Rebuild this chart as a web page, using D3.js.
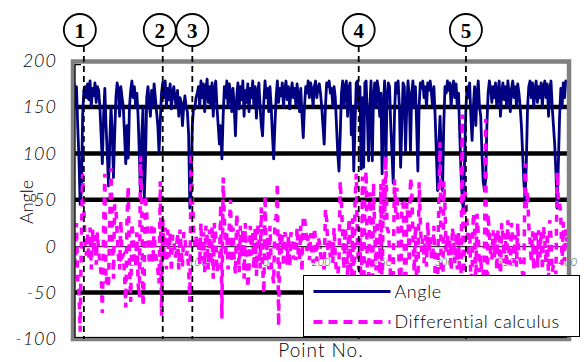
<!DOCTYPE html>
<html>
<head>
<meta charset="utf-8">
<script src="https://cdn.jsdelivr.net/npm/d3@7"></script>
<style>
  body { margin: 0; background: #fff; }
  text { font-family: Lato, "DejaVu Sans", sans-serif; font-weight: 300; }
</style>
</head>
<body>
<svg id="chart" width="584" height="362"></svg>
<script>
// Angle per point (0..400)
const angle = [
  176, 150, 172, 130, 95, 45, 60, 140, 168, 172, 160, 175, 158, 178, 150, 170, 162, 176, 155, 172,
  168, 150, 120, 89, 140, 170, 130, 100, 65, 110, 150, 125, 74, 120, 160, 176, 168, 140, 172, 160,
  150, 120, 89, 130, 95, 150, 168, 178, 160, 172, 150, 165, 140, 100, 51, 120, 150, 52, 90, 160,
  172, 155, 140, 168, 150, 175, 160, 145, 130, 101, 135, 165, 176, 160, 178, 150, 170, 158, 175, 148,
  165, 172, 158, 150, 168, 140, 160, 155, 130, 150, 162, 150, 145, 120, 41, 60, 130, 150, 148, 160,
  165, 172, 150, 178, 160, 175, 145, 170, 180, 155, 172, 150, 176, 140, 168, 178, 150, 130, 110, 130,
  94, 140, 172, 160, 178, 150, 175, 165, 145, 170, 150, 119, 160, 176, 148, 172, 158, 178, 140, 168,
  155, 175, 145, 170, 160, 178, 150, 172, 138, 165, 176, 150, 130, 119, 155, 178, 160, 170, 145, 172,
  150, 120, 94, 130, 160, 178, 155, 170, 162, 176, 150, 168, 178, 158, 172, 148, 166, 176, 160, 170,
  152, 175, 160, 145, 170, 140, 117, 150, 172, 165, 178, 160, 176, 168, 150, 172, 178, 160, 170, 175,
  165, 150, 130, 110, 150, 176, 172, 178, 165, 170, 150, 172, 160, 130, 100, 81, 120, 165, 178, 150,
  172, 178, 140, 170, 176, 120, 150, 81, 130, 176, 178, 150, 172, 83, 160, 85, 176, 178, 140, 92,
  150, 178, 92, 160, 176, 150, 178, 170, 140, 165, 78, 150, 178, 87, 160, 176, 172, 130, 100, 68,
  140, 176, 165, 178, 150, 85, 130, 176, 172, 103, 150, 178, 160, 103, 165, 178, 150, 172, 130, 81,
  150, 176, 170, 178, 160, 172, 150, 176, 168, 178, 165, 150, 172, 140, 100, 60, 110, 140, 100, 60,
  130, 172, 165, 178, 168, 176, 150, 170, 178, 160, 175, 150, 165, 120, 80, 50, 38, 100, 150, 172,
  160, 176, 140, 114, 150, 172, 130, 165, 178, 150, 140, 100, 70, 60, 72, 130, 165, 178, 170, 155,
  172, 160, 176, 150, 168, 178, 140, 165, 176, 158, 172, 150, 178, 165, 145, 170, 178, 160, 172, 150,
  175, 165, 150, 130, 100, 70, 49, 90, 150, 172, 178, 160, 176, 150, 168, 178, 155, 172, 160, 176,
  150, 172, 178, 160, 175, 140, 168, 178, 150, 130, 110, 80, 41, 90, 140, 170, 150, 176, 160, 178,
  176
];

// Differential calculus per point
const differential = [
  0, -20, 25, -35, -50, -92, 10, 78, 40, 5, -10, 15, -15, 20, -25, 18, -8, 12, -20, 15,
  -5, -18, -30, -72, 20, 78, -40, -30, -45, 30, 84, 20, -35, 45, 40, 15, -10, -25, 28, -12,
  -10, -30, -66, 30, 65, -20, -60, 25, 10, -15, -22, 15, -40, -55, 97, 40, -65, -30, 55, 35,
  10, -15, -20, 25, -18, 20, -10, -15, -25, -40, 70, -75, 30, -15, 20, -25, 18, -12, 15, -28,
  12, 8, -12, -8, 15, -25, 18, -5, -22, 15, 10, -10, -5, -25, -60, 101, 55, 20, 0, 10,
  5, 8, -20, 25, -15, 15, -28, 22, 10, -25, 18, -20, 22, -35, 25, 12, -28, -20, -20, 45,
  -78, 74, 30, -12, 15, -25, 22, 50, -18, 20, -15, -30, 35, 15, -28, 22, -12, 18, -35, 25,
  -10, -45, -25, 22, -10, 15, -25, 20, -32, 25, 10, -24, 42, -20, -51, 55, -15, 10, -25, 22,
  -20, -30, -40, 28, 30, 68, -86, 15, -8, 12, -22, 15, 10, -20, 12, -22, 15, 10, -14, 8,
  -15, 20, -12, -15, 22, -28, 33, 30, 20, -5, 12, -15, 14, -6, -18, 20, 6, -16, 10, 5,
  -8, -15, -20, -25, 40, 28, -4, 6, -12, 5, -18, 20, -10, -30, -30, -19, 70, 45, 13, -25,
  20, 6, -35, 30, 6, -55, 30, -69, 49, 78, 2, -25, 20, -89, 75, -75, 60, 81, -35, -48,
  58, 28, -86, 68, 16, -26, 28, -8, -30, 67, -62, 72, 28, 97, 20, 16, -4, -42, -30, -32,
  72, 36, 63, 13, -28, -65, 45, 46, -4, -69, 47, 28, -18, 74, 62, 13, -28, 22, -42, -49,
  69, 26, -6, 8, -18, 12, -22, 26, -8, 10, -13, -15, 22, -32, -40, -40, 50, 112, -40, -98,
  70, 42, -7, 13, -10, 8, -26, 20, 8, -18, 15, -25, 15, -45, -40, 142, -98, 62, 50, 22,
  -12, 16, -36, -26, 36, 22, -42, 35, 13, -28, -10, -40, -30, -10, 137, -98, 35, 13, -8, -15,
  17, -12, 16, -26, 18, 10, -38, 25, 11, -18, 14, -22, 28, -13, -20, 25, 8, -18, 12, -22,
  25, -10, -15, -20, -30, -30, 89, 41, 60, 22, 6, -18, 16, -26, 18, 10, -23, 17, -12, 16,
  -26, 22, 6, -18, 15, -35, 28, 10, -28, -20, -20, -30, 80, 49, 50, 30, -20, 26, -16, 18,
  5
];

const xTicks = [0, 50, 100, 150, 200, 250, 300, 350, 400];
const yTicks = [200, 150, 100, 50, 0, -50, -100];
const gridValues = [150, 100, 50, -50];
const markerPoints = [8, 72, 96, 231, 318];
const markerLabels = ['1', '2', '3', '4', '5'];
const seriesNames = ['Angle', 'Differential calculus'];

const colors = { angle: '#000080', diff: '#ff00ff', frame: '#808080' };

const svg = d3.select('#chart');
svg.append('rect').attr('width', 584).attr('height', 362).attr('fill', '#fff');

const x = d3.scaleLinear().domain([0, 400]).range([74, 567]);
const y = d3.scaleLinear().domain([-100, 200]).range([339, 60.6]);

// clip for data
svg.append('clipPath').attr('id', 'plotClip')
  .append('rect')
  .attr('x', x(0) + 1).attr('y', y(200) + 2)
  .attr('width', x(400) - x(0) - 1).attr('height', y(-100) - y(200) - 3);

// thick grid lines
svg.append('g')
  .selectAll('line')
  .data(gridValues)
  .enter()
  .append('line')
  .attr('x1', x(0)).attr('x2', x(400))
  .attr('y1', d => y(d)).attr('y2', d => y(d))
  .attr('stroke', '#000')
  .attr('stroke-width', 4.5);

// zero axis with point numbers
const xAxis = d3.axisBottom(x).tickValues(xTicks).tickSize(3).tickPadding(9);
const gx = svg.append('g')
  .attr('transform', `translate(0, ${y(0)})`)
  .call(xAxis);
gx.select('.domain').attr('stroke', '#000').attr('stroke-width', 1);
gx.selectAll('.tick line').attr('stroke', '#000');
gx.selectAll('.tick text')
  .style('font-family', 'Lato, "DejaVu Sans", sans-serif')
  .style('font-size', '11px')
  .style('font-style', 'italic')
  .attr('fill', '#333');

const idx = d3.range(angle.length);
const data = svg.append('g').attr('clip-path', 'url(#plotClip)');

const angleLine = d3.line()
  .x(i => x(i))
  .y(i => y(angle[i]));

const diffLine = d3.line()
  .x(i => x(i))
  .y(i => y(differential[i]));

data.append('path')
  .datum(idx)
  .attr('d', angleLine)
  .attr('fill', 'none')
  .attr('stroke', colors.angle)
  .attr('stroke-width', 2.8)
  .attr('stroke-linejoin', 'round');

data.append('path')
  .datum(idx)
  .attr('d', diffLine)
  .attr('fill', 'none')
  .attr('stroke', colors.diff)
  .attr('stroke-width', 3.5)
  .attr('stroke-dasharray', '7,7');

// frame
svg.append('rect')
  .attr('x', 73).attr('y', 61.5)
  .attr('width', 496).attr('height', 277.5)
  .attr('fill', 'none')
  .attr('stroke', colors.frame)
  .attr('stroke-width', 4.5);
svg.append('path')
  .attr('d', `M${x(0) + 1},${y(200) + 4}V${y(-100) - 1.5}H${x(400)}M${x(0) + 1},${y(200) + 4}h6`)
  .attr('fill', 'none')
  .attr('stroke', '#000')
  .attr('stroke-width', 1.2);

// y tick labels
svg.append('g')
  .selectAll('text')
  .data(yTicks)
  .enter()
  .append('text')
  .attr('x', 57)
  .attr('y', d => y(d))
  .attr('dy', '0.36em')
  .attr('text-anchor', 'end')
  .style('font-size', '18px')
  .style('font-style', 'italic')
  .style('letter-spacing', '1px')
  .attr('fill', '#000')
  .text(d => d);

// axis titles
svg.append('text')
  .attr('transform', 'translate(33, 202) rotate(-90)')
  .attr('text-anchor', 'middle')
  .style('font-size', '18px')
  .text('Angle');

svg.append('text')
  .attr('x', 321).attr('y', 357)
  .attr('text-anchor', 'middle')
  .style('font-size', '19px')
  .style('letter-spacing', '1px')
  .text('Point No.');

// marked points
const labelShift = [-4, -3, 0, 0, 0];
const markers = svg.append('g')
  .selectAll('g')
  .data(markerPoints)
  .enter()
  .append('g');

markers.append('line')
  .attr('x1', d => x(d)).attr('x2', d => x(d))
  .attr('y1', 46).attr('y2', y(-100))
  .attr('stroke', '#000')
  .attr('stroke-width', 1.8)
  .attr('stroke-dasharray', '6,4');

markers.append('circle')
  .attr('cx', (d, i) => x(d) + labelShift[i])
  .attr('cy', 30)
  .attr('r', 16)
  .attr('fill', '#fff')
  .attr('stroke', '#000')
  .attr('stroke-width', 1.8);

markers.append('text')
  .attr('x', (d, i) => x(d) + labelShift[i])
  .attr('y', 30)
  .attr('dy', '0.36em')
  .attr('text-anchor', 'middle')
  .style('font-family', '"Liberation Serif", serif')
  .style('font-weight', 'bold')
  .style('font-size', '21px')
  .text((d, i) => markerLabels[i]);

// legend
const legend = svg.append('g').attr('transform', 'translate(303.5, 275.5)');
legend.append('rect')
  .attr('width', 276).attr('height', 61)
  .attr('fill', '#fff')
  .attr('stroke', '#000')
  .attr('stroke-width', 1);

const legendRows = legend.selectAll('g.row')
  .data(seriesNames)
  .enter()
  .append('g')
  .attr('class', 'row')
  .attr('transform', (d, i) => `translate(0, ${16 + i * 30.5})`);

legendRows.append('line')
  .attr('x1', 10).attr('x2', 87)
  .attr('stroke', (d, i) => i === 0 ? colors.angle : colors.diff)
  .attr('stroke-width', (d, i) => i === 0 ? 3 : 4)
  .attr('stroke-dasharray', (d, i) => i === 0 ? null : '9,6');

legendRows.append('text')
  .attr('x', 91)
  .attr('dy', '0.36em')
  .style('font-size', '18px')
  .style('letter-spacing', '0.6px')
  .text(d => d);
</script>
</body>
</html>
